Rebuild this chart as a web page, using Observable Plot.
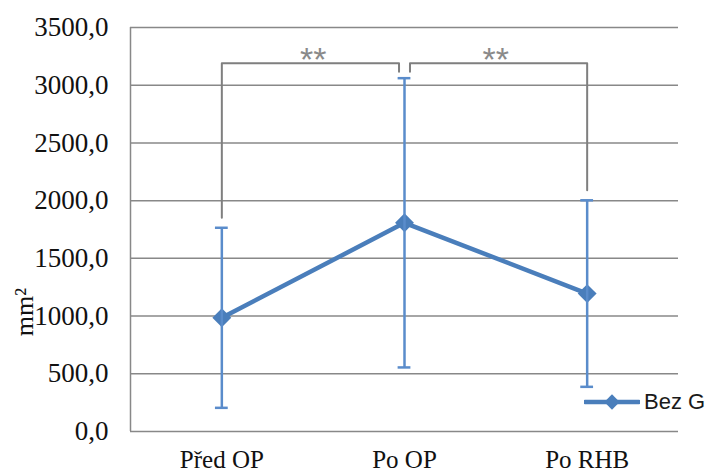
<!DOCTYPE html>
<html>
<head>
<meta charset="utf-8">
<script src="https://cdn.jsdelivr.net/npm/d3@7"></script>
<script src="https://cdn.jsdelivr.net/npm/@observablehq/plot@0.6"></script>
<style>
  html, body { margin: 0; padding: 0; background: #fff; }
  #wrap { position: relative; width: 705px; height: 473px; }
  #legend { position: absolute; left: 584px; top: 389px; display: flex; align-items: center; white-space: nowrap;
            font-family: "Liberation Sans", Arial, sans-serif; font-size: 22px; color: #1a1a1a; }
  #legend svg { display: block; margin-right: 4px; flex: none; }
  #ytitle { position: absolute; left: 25px; top: 312px; transform: translate(-50%, -50%) rotate(-90deg);
            font-family: "Liberation Serif", "Times New Roman", serif; font-size: 26px; color: #111; white-space: nowrap; }
  #wrap svg g[aria-label^="y-axis"], #wrap svg g[aria-label^="y-axis"] text { font-size: 27px !important; }
  #wrap svg g[aria-label^="x-axis"], #wrap svg g[aria-label^="x-axis"] text { font-size: 25px !important; }
</style>
</head>
<body>
<div id="wrap"><div id="legend"></div><div id="ytitle"></div></div>
<script>
// ---- data ----
const categories = ["Před OP", "Po OP", "Po RHB"];
const means = [985, 1808, 1195];
const sds = [780, 1253, 808];
const yTicks = [0, 500, 1000, 1500, 2000, 2500, 3000, 3500];
const seriesName = "Bez G";
const yTitle = "mm²";
const bracketFrom = [0, 1];
const bracketTo = [1, 2];
const bracketLabels = ["**", "**"];

// ---- derived ----
const xDomain = [-0.5, categories.length - 0.5];
const rows = categories.map((c, i) => ({ i, cat: c, mean: means[i], lo: means[i] - sds[i], hi: means[i] + sds[i] }));
const capHalf = 0.035;
const bracketTop = 3190;
const shortLeg = 73;
const legGap = 87;
const sideGap = 0.03;
const shared = bracketFrom.filter(f => bracketTo.includes(f));
const bracketPts = [];
const brackets = bracketFrom.map((f, b) => ({ b, from: f, to: bracketTo[b], label: bracketLabels[b] }));
brackets.forEach(({ b, from, to }) => {
  const endPts = (idx, side) => {
    if (shared.includes(idx)) return { x: idx + side * sideGap, y: bracketTop - shortLeg };
    return { x: idx, y: rows[idx].hi + legGap };
  };
  const a = endPts(from, 1), c = endPts(to, -1);
  bracketPts.push({ b, x: a.x, y: a.y }, { b, x: a.x, y: bracketTop }, { b, x: c.x, y: bracketTop }, { b, x: c.x, y: c.y });
});

const blue = "#4a7ebb";
const gray = "#888888";

const chart = Plot.plot({
  width: 705,
  height: 473,
  marginLeft: 130,
  marginRight: 27,
  marginTop: 27,
  marginBottom: 42,
  style: { fontFamily: "'Liberation Serif', 'Times New Roman', serif", fontSize: "25px", color: "#111", background: "#fff", overflow: "visible" },
  x: { type: "linear", domain: xDomain, ticks: [0, 1, 2], tickFormat: i => categories[i], tickSize: 0, tickPadding: 19, label: null },
  y: { domain: [0, 3500], ticks: yTicks, tickFormat: d => d.toFixed(1).replace(".", ","), tickSize: 0, tickPadding: 22, label: null },
  marks: [
    Plot.ruleY(yTicks, { stroke: gray, strokeWidth: 1.5 }),
    Plot.ruleX([xDomain[0]], { stroke: gray, strokeWidth: 1.5 }),
    Plot.line(bracketPts, { x: "x", y: "y", z: "b", stroke: "#7f7f7f", strokeWidth: 2 }),
    Plot.text(brackets, { x: d => (d.from + d.to) / 2, y: () => bracketTop, dy: -3, text: "label", fill: "#8a8a8a",
      fontSize: 34, fontFamily: "'Liberation Sans', Arial, sans-serif", letterSpacing: "1px" }),
    Plot.line(rows, { x: "i", y: "mean", stroke: blue, strokeWidth: 4.5 }),
    Plot.dot(rows, { x: "i", y: "mean", symbol: "diamond2", r: 8.5, fill: blue, stroke: "none" }),
    Plot.ruleX(rows, { x: "i", y1: "lo", y2: "hi", stroke: "#5a8ccb", strokeWidth: 2.5 }),
    Plot.ruleY(rows.flatMap(d => [{ ...d, v: d.lo }, { ...d, v: d.hi }]), { y: "v", x1: d => d.i - capHalf, x2: d => d.i + capHalf, stroke: "#5a8ccb", strokeWidth: 2.5 })
  ]
});
document.getElementById("wrap").prepend(chart);
document.getElementById("ytitle").textContent = yTitle;

// legend
const leg = d3.select("#legend");
const ls = leg.append("svg").attr("width", 56).attr("height", 22);
ls.append("line").attr("x1", 1).attr("x2", 55).attr("y1", 11).attr("y2", 11).attr("stroke", blue).attr("stroke-width", 4.5).attr("stroke-linecap", "round");
ls.append("path").attr("d", d3.symbol(d3.symbolDiamond2, 150)()).attr("transform", "translate(28,11)").attr("fill", blue);
leg.append("span").text(seriesName);
</script>
</body>
</html>
